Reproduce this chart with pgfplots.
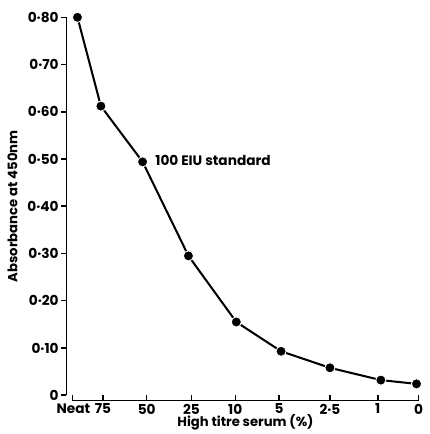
\documentclass[border=0pt]{standalone}
\usepackage{pgfplots}
\pgfplotsset{compat=1.18}
\usepackage{fontspec}
\setmainfont{Poppins}

\begin{document}
\begin{tikzpicture}
% y axis (detached) and the curve
\begin{axis}[
    at={(0,0)}, anchor=south west,
    x=1bp, y=464bp,
    xmin=74, xmax=420, ymin=0, ymax=0.8,
    axis y line=left, axis x line=none,
    axis line style={-, line width=1.5bp},
    ytick={0,0.1,0.2,0.3,0.4,0.5,0.6,0.7,0.8},
    yticklabels={0,0·10,0·20,0·30,0·40,0·50,0·60,0·70,0·80},
    tick align=outside, major tick length=5bp,
    tick style={line width=1.5bp, black},
    tick label style={font=\fontsize{13.5}{15}\selectfont\bfseries},
    yticklabel style={xshift=1bp},
    ylabel={Absorbance at 450nm},
    ylabel style={font=\fontsize{13}{15}\selectfont\bfseries, yshift=3bp},
    clip=false,
]
\addplot[black, line width=2bp, mark=*, mark size=5bp,
    mark options={fill=black, draw=white, line width=0.9bp}]
    coordinates {(85,0.80)(108,0.612)(149,0.494)(194,0.295)(241,0.155)
                 (285,0.093)(333,0.058)(383,0.032)(418,0.024)};
\node[anchor=west, font=\fontsize{13.5}{15}\selectfont\bfseries] at (axis cs:158,0.497) {100 EIU standard};
\end{axis}
\path ([yshift=17bp]current axis.north west);
% x axis (detached)
\begin{axis}[
    at={(6bp,-5bp)}, anchor=south west,
    x=1bp, y=464bp,
    xmin=80, xmax=420, ymin=0, ymax=0.8,
    axis x line=bottom, axis y line=none,
    axis line style={-, line width=1.5bp},
    xtick={80,110,153,197,240,283,333,380,420},
    xticklabels={\hspace*{2bp}Neat,75,50,25,10,5,2·5,1,0},
    tick align=inside, major tick length=5bp,
    tick style={line width=1.5bp, black},
    tick label style={font=\fontsize{13.5}{15}\selectfont\bfseries},
    xlabel={High titre serum (\%)},
    xlabel style={font=\fontsize{13}{15}\selectfont\bfseries, yshift=6bp},
]
\end{axis}
\path ([xshift=-4bp]current bounding box.west) ([xshift=3bp]current bounding box.east);
\end{tikzpicture}
\end{document}
